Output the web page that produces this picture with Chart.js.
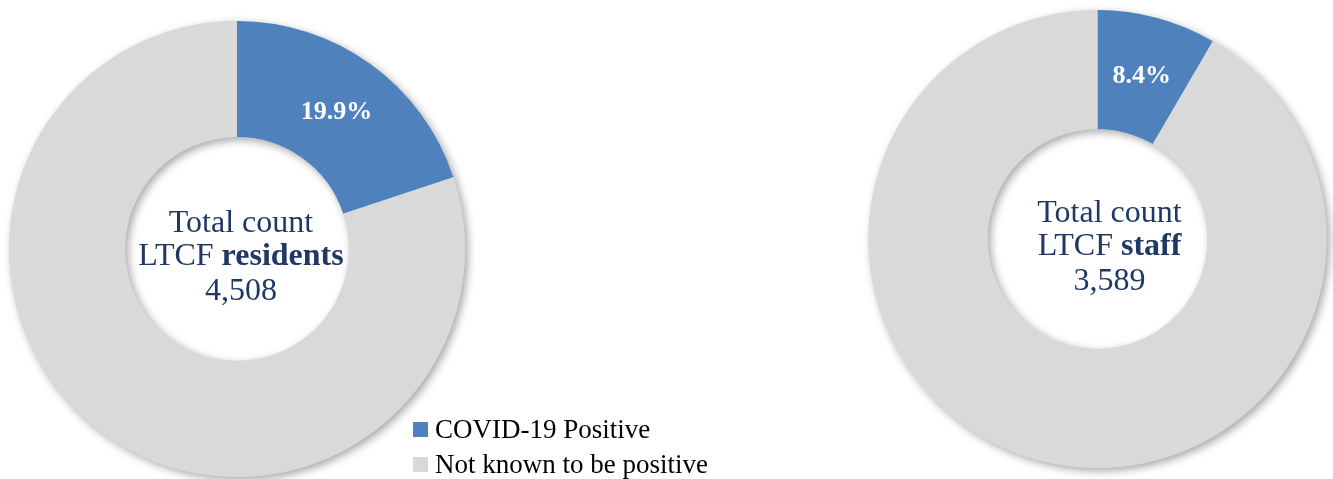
<!DOCTYPE html>
<html lang="en">
<head>
  <meta charset="UTF-8" />
  <title>LTCF COVID-19 Positive</title>
  <script src="https://cdn.jsdelivr.net/npm/chart.js"></script>
  <style>
    html, body {
      margin: 0;
      padding: 0;
      width: 1333px;
      height: 479px;
      overflow: hidden;
      background: #fff;
    }

    .wrap {
      position: absolute;
      top: 0;
      width: 475px;
      height: 479px;
    }

    #legend {
      position: absolute;
      left: 413px;
      top: 412px;
      font-family: "Liberation Serif", serif;
      font-size: 27px;
      color: #000;
    }

    #legend .item {
      display: flex;
      align-items: center;
      height: 35px;
      white-space: nowrap;
    }

    #legend .box {
      width: 15px;
      height: 15px;
      margin-right: 7px;
    }
  </style>
</head>
<body>
  <div class="wrap" style="left: 0;"><canvas id="residentsChart"></canvas></div>
  <div class="wrap" style="left: 860px;"><canvas id="staffChart"></canvas></div>
  <div id="legend"></div>

  <script>
    const labels = ['COVID-19 Positive', 'Not known to be positive'];
    const residentsPct = [19.9, 80.1];
    const staffPct = [8.4, 91.6];
    const groupNames = ['residents', 'staff'];
    const groupTotals = ['4,508', '3,589'];
    const colors = ['#4f81bd', '#d9d9d9'];

    const SERIF = '"Liberation Serif", serif';
    const NAVY = '#1f3864';

    // soft drop shadow under the whole ring, drawn before the slices
    const ringShadow = {
      id: 'ringShadow',
      beforeDatasetsDraw(chart) {
        const arc = chart.getDatasetMeta(0).data[0];
        if (!arc) return;
        const { x, y, innerRadius, outerRadius } = arc.getProps(['x', 'y', 'innerRadius', 'outerRadius'], true);
        const ctx = chart.ctx;
        ctx.save();
        ctx.shadowColor = 'rgba(0,0,0,0.35)';
        ctx.shadowBlur = 8;
        ctx.shadowOffsetX = 3;
        ctx.shadowOffsetY = 3;
        ctx.fillStyle = colors[1];
        ctx.beginPath();
        ctx.arc(x, y, outerRadius, 0, Math.PI * 2);
        ctx.arc(x, y, innerRadius, 0, Math.PI * 2, true);
        ctx.fill();
        ctx.restore();
      }
    };

    // percentage on the positive slice + total in the hole
    const labelsPlugin = {
      id: 'donutText',
      afterDatasetsDraw(chart, args, opts) {
        const ctx = chart.ctx;
        const meta = chart.getDatasetMeta(0);
        const arc = meta.data[0];
        const value = chart.data.datasets[0].data[0];

        ctx.save();
        const p = arc.getCenterPoint();
        ctx.fillStyle = '#fff';
        ctx.font = 'bold 26px ' + SERIF;
        ctx.textAlign = 'center';
        ctx.textBaseline = 'middle';
        ctx.fillText(value.toFixed(1) + '%', p.x, p.y + 1);

        const cx = arc.x + opts.dx;
        const cy = arc.y;
        ctx.fillStyle = NAVY;
        ctx.textBaseline = 'alphabetic';
        ctx.font = '32px ' + SERIF;
        ctx.fillText('Total count', cx, cy - 17);

        const normal = 'LTCF ';
        ctx.font = '32px ' + SERIF;
        const w1 = ctx.measureText(normal).width;
        ctx.font = 'bold 32px ' + SERIF;
        const w2 = ctx.measureText(opts.group).width;
        const start = cx - (w1 + w2) / 2;
        ctx.textAlign = 'left';
        ctx.font = '32px ' + SERIF;
        ctx.fillText(normal, start, cy + 16);
        ctx.font = 'bold 32px ' + SERIF;
        ctx.fillText(opts.group, start + w1, cy + 16);

        ctx.textAlign = 'center';
        ctx.font = '32px ' + SERIF;
        ctx.fillText(opts.total, cx, cy + 51);
        ctx.restore();
      }
    };

    function renderDonut(id, values, group, total, radius, cutout, padding, dx) {
      new Chart(document.getElementById(id).getContext('2d'), {
        type: 'doughnut',
        data: {
          labels,
          datasets: [{
            data: values,
            backgroundColor: colors,
            borderWidth: 0,
            hoverOffset: 0
          }]
        },
        options: {
          responsive: true,
          maintainAspectRatio: false,
          animation: false,
          radius,
          cutout,
          layout: { padding },
          plugins: {
            legend: { display: false },
            tooltip: { enabled: false },
            donutText: { group, total, dx }
          }
        },
        plugins: [ringShadow, labelsPlugin]
      });
    }

    renderDonut('residentsChart', residentsPct, groupNames[0], groupTotals[0], 228, 113,
      { left: 0, right: 1, top: 19, bottom: 0 }, 4);
    renderDonut('staffChart', staffPct, groupNames[1], groupTotals[1], 229, 114,
      { left: 0, right: 0, top: 0, bottom: 1 }, 12);

    // legend built from the same labels / colours
    const legend = document.getElementById('legend');
    labels.forEach((text, i) => {
      const item = document.createElement('div');
      item.className = 'item';
      const box = document.createElement('span');
      box.className = 'box';
      box.style.background = colors[i];
      item.appendChild(box);
      item.appendChild(document.createTextNode(text));
      legend.appendChild(item);
    });
  </script>
</body>
</html>
